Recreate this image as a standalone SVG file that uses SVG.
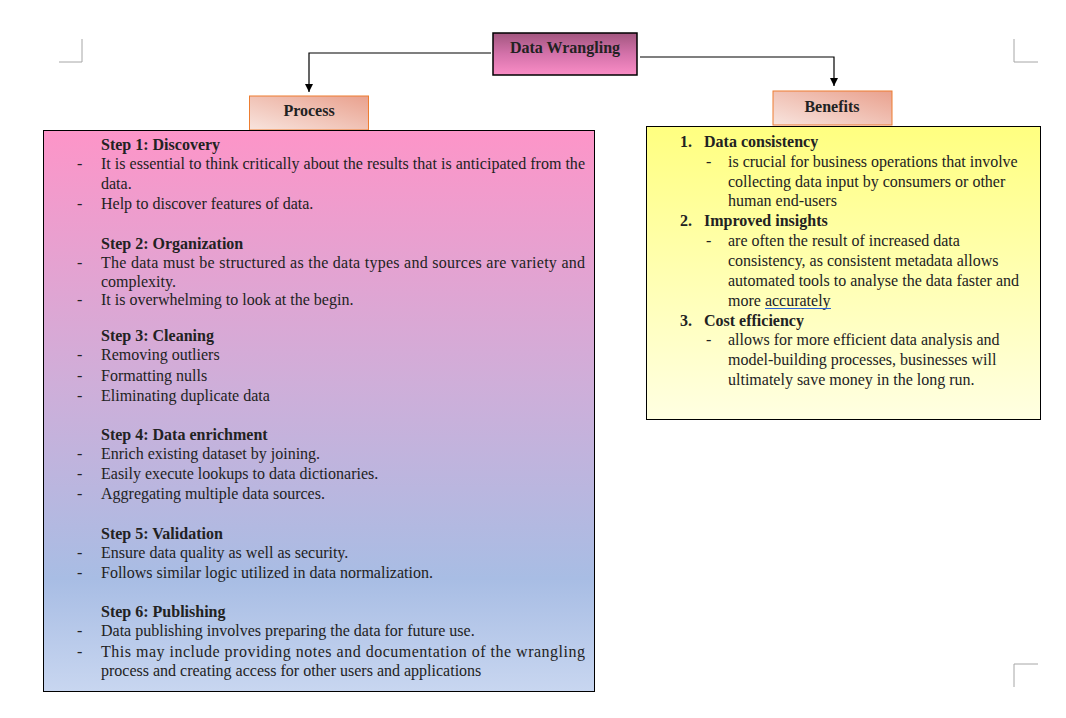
<svg xmlns="http://www.w3.org/2000/svg" width="1066" height="718" viewBox="0 0 1066 718">
<style>
text{font-family:"Liberation Serif","Times New Roman",serif;font-size:16px;fill:#222}
.b{font-weight:bold}
.c{text-anchor:middle}
.corner{fill:none;stroke:#a6a6a6;stroke-width:1}
.conn{fill:none;stroke:#000;stroke-width:1.2}
</style>
<defs>
<linearGradient id="gTitle" x1="0" y1="0" x2="0" y2="1">
<stop offset="0" stop-color="#a2567f"/>
<stop offset="0.5" stop-color="#d472aa"/>
<stop offset="1" stop-color="#fa8dc6"/>
</linearGradient>
<linearGradient id="gLabel" x1="1" y1="0" x2="0" y2="1">
<stop offset="0" stop-color="#e9a18e"/>
<stop offset="1" stop-color="#f8e4de"/>
</linearGradient>
<linearGradient id="gProc" x1="0" y1="0" x2="0" y2="1">
<stop offset="0" stop-color="#fd95c8"/>
<stop offset="0.45" stop-color="#cfaed9"/>
<stop offset="0.8" stop-color="#a8bde4"/>
<stop offset="1" stop-color="#c8d6f0"/>
</linearGradient>
<linearGradient id="gBen" x1="0" y1="0" x2="0" y2="1">
<stop offset="0" stop-color="#ffff80"/>
<stop offset="1" stop-color="#ffffe2"/>
</linearGradient>
<marker id="arr" markerWidth="10" markerHeight="10" refX="8" refY="4" orient="auto" markerUnits="userSpaceOnUse">
<path d="M0,0 L8,4 L0,8 Z" fill="#000"/>
</marker>
</defs>
<rect width="1066" height="718" fill="#fff"/>

<g id="corners">
<path class="corner" d="M59,62 H82 V39"/>
<path class="corner" d="M1014,39 V62 H1038"/>
<path class="corner" d="M1014,687 V664 H1038"/>
</g>

<g id="connectors">
<path class="conn" d="M491,53 H309 V92" marker-end="url(#arr)"/>
<path class="conn" d="M640,57 H834 V86" marker-end="url(#arr)"/>
</g>

<g id="data-wrangling">
<rect x="493" y="33" width="144" height="42" fill="url(#gTitle)" stroke="#000" stroke-width="1.5"/>
<text class="b c" x="565" y="53">Data Wrangling</text>
</g>

<g id="process-label">
<rect x="249.5" y="96" width="119" height="34" fill="url(#gLabel)" stroke="#ed7d31" stroke-width="1"/>
<text class="b c" x="309" y="116">Process</text>
</g>

<g id="benefits-label">
<rect x="773" y="91" width="119" height="34" fill="url(#gLabel)" stroke="#ed7d31" stroke-width="1"/>
<text class="b c" x="832" y="112">Benefits</text>
</g>

<g id="process">
<rect x="43.5" y="130.5" width="551" height="561" fill="url(#gProc)" stroke="#000" stroke-width="1"/>
<text class="b" x="101" y="150">Step 1: Discovery</text>
<text x="77" y="169">-</text>
<text x="101" y="169" textLength="484" lengthAdjust="spacing">It is essential to think critically about the results that is anticipated from the</text>
<text x="101" y="189">data.</text>
<text x="77" y="209">-</text>
<text x="101" y="209">Help to discover features of data.</text>

<text class="b" x="101" y="249">Step 2: Organization</text>
<text x="77" y="268">-</text>
<text x="101" y="268" textLength="484" lengthAdjust="spacing">The data must be structured as the data types and sources are variety and</text>
<text x="101" y="287">complexity.</text>
<text x="77" y="305">-</text>
<text x="101" y="305">It is overwhelming to look at the begin.</text>

<text class="b" x="101" y="341">Step 3: Cleaning</text>
<text x="77" y="360">-</text>
<text x="101" y="360">Removing outliers</text>
<text x="77" y="381">-</text>
<text x="101" y="381">Formatting nulls</text>
<text x="77" y="401">-</text>
<text x="101" y="401">Eliminating duplicate data</text>

<text class="b" x="101" y="440">Step 4: Data enrichment</text>
<text x="77" y="459">-</text>
<text x="101" y="459">Enrich existing dataset by joining.</text>
<text x="77" y="479">-</text>
<text x="101" y="479">Easily execute lookups to data dictionaries.</text>
<text x="77" y="499">-</text>
<text x="101" y="499">Aggregating multiple data sources.</text>

<text class="b" x="101" y="539">Step 5: Validation</text>
<text x="77" y="558">-</text>
<text x="101" y="558">Ensure data quality as well as security.</text>
<text x="77" y="578">-</text>
<text x="101" y="578">Follows similar logic utilized in data normalization.</text>

<text class="b" x="101" y="617">Step 6: Publishing</text>
<text x="77" y="636">-</text>
<text x="101" y="636">Data publishing involves preparing the data for future use.</text>
<text x="77" y="657">-</text>
<text x="101" y="657" textLength="484" lengthAdjust="spacing">This may include providing notes and documentation of the wrangling</text>
<text x="101" y="676">process and creating access for other users and applications</text>
</g>

<g id="benefits">
<rect x="646.5" y="126.5" width="394" height="293" fill="url(#gBen)" stroke="#000" stroke-width="1"/>
<text class="b" x="680" y="147">1.</text>
<text class="b" x="704" y="147">Data consistency</text>
<text x="706" y="167">-</text>
<text x="728" y="167">is crucial for business operations that involve</text>
<text x="728" y="187">collecting data input by consumers or other</text>
<text x="728" y="206">human end-users</text>

<text class="b" x="680" y="226">2.</text>
<text class="b" x="704" y="226">Improved insights</text>
<text x="706" y="246">-</text>
<text x="728" y="246">are often the result of increased data</text>
<text x="728" y="266">consistency, as consistent metadata allows</text>
<text x="728" y="286">automated tools to analyse the data faster and</text>
<text x="728" y="306">more accurately</text>
<line x1="765" y1="308.5" x2="831" y2="308.5" stroke="#2b62d6" stroke-width="1.2"/>

<text class="b" x="680" y="326">3.</text>
<text class="b" x="704" y="326">Cost efficiency</text>
<text x="706" y="345">-</text>
<text x="728" y="345">allows for more efficient data analysis and</text>
<text x="728" y="365">model-building processes, businesses will</text>
<text x="728" y="385">ultimately save money in the long run.</text>
</g>
</svg>
